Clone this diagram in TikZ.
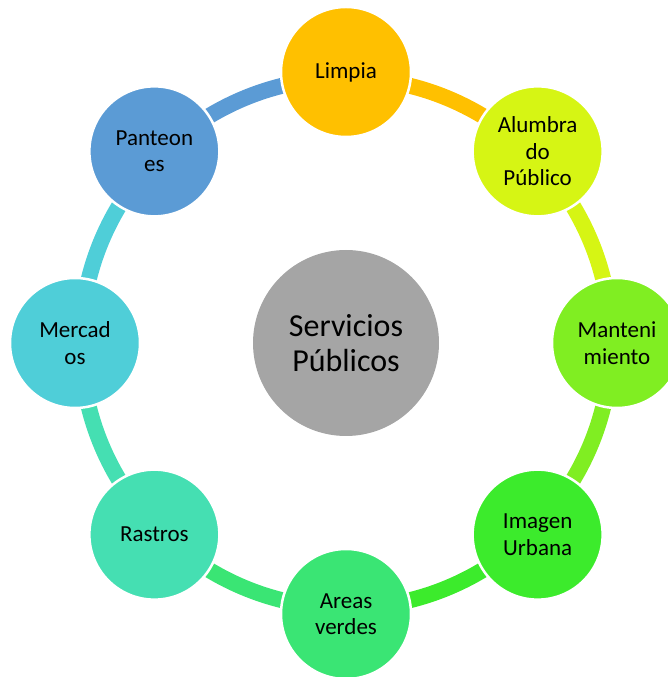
\documentclass[tikz,border=0pt]{standalone}
\usepackage{fontspec}
\setmainfont{Carlito}
\usetikzlibrary{calc}
\pgfdeclarelayer{bg}
\pgfsetlayers{bg,main}
\definecolor{cLim}{HTML}{FFC000}
\definecolor{cAlu}{HTML}{D6F514}
\definecolor{cMan}{HTML}{80EE22}
\definecolor{cImg}{HTML}{3CEB2C}
\definecolor{cAre}{HTML}{3AE574}
\definecolor{cRas}{HTML}{45DFB2}
\definecolor{cMer}{HTML}{4FCED8}
\definecolor{cPan}{HTML}{5B9BD5}
\definecolor{cSrv}{HTML}{A5A5A5}
\tikzset{
  sat/.style={circle, minimum size=130pt, inner sep=0pt, draw=white, line width=2.5pt,
    font=\fontsize{23}{26.5}\selectfont, align=center, text=black},
  hub/.style={circle, minimum size=186pt, inner sep=0pt, fill=cSrv,
    font=\fontsize{32}{35.5}\selectfont, align=center, text=black},
  ring/.style={line width=16pt}
}
\begin{document}
\begin{tikzpicture}[x=1pt,y=1pt]
\useasboundingbox (0,0) rectangle (668,677);
\clip (0,0) rectangle (668,677);
\coordinate (c) at (346,334);
\node[hub] (srv) at (c) {Servicios\\Públicos};
\node[sat, fill=cLim] (lim) at ($(c)+(90:271)$) {Limpia};
\node[sat, fill=cAlu] (alu) at ($(c)+(45:271)$) {Alumbra\\do\\Público};
\node[sat, fill=cMan] (man) at ($(c)+(0:271)$) {Manteni\\miento};
\node[sat, fill=cImg] (img) at ($(c)+(-45:271)$) {Imagen\\Urbana};
\node[sat, fill=cAre] (are) at ($(c)+(-90:271)$) {Areas\\verdes};
\node[sat, fill=cRas] (ras) at ($(c)+(-135:271)$) {Rastros};
\node[sat, fill=cMer] (mer) at ($(c)+(180:271)$) {Mercad\\os};
\node[sat, fill=cPan] (pan) at ($(c)+(135:271)$) {Panteon\\es};
\begin{pgfonlayer}{bg}
\foreach \n/\ang/\col in {lim/90/cLim, alu/45/cAlu, man/0/cMan, img/-45/cImg,
                          are/-90/cAre, ras/-135/cRas, mer/180/cMer, pan/135/cPan}
  \draw[ring, draw=\col] ($(c)!0.978!(\n)$) arc[start angle=\ang, end angle=\ang-45, radius=265];
\end{pgfonlayer}
\end{tikzpicture}
\end{document}
